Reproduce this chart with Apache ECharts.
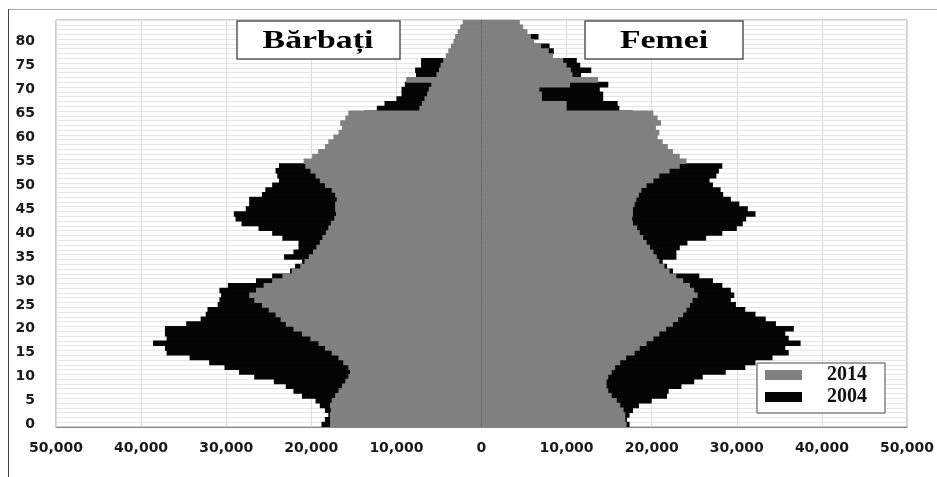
<!DOCTYPE html>
<html>
<head>
<meta charset="utf-8">
<script src="https://cdn.jsdelivr.net/npm/echarts@6/dist/echarts.min.js"></script>
<style>html,body{margin:0;padding:0;background:#fff;}#c{width:937px;height:477px;}</style>
</head>
<body>
<div id="c"></div>
<script>
// Ages 0..84
const ages = Array.from({length: 85}, (_, i) => String(i));
const xTicks = [-50000, -40000, -30000, -20000, -10000, 0, 10000, 20000, 30000, 40000, 50000];

// Men (Bărbați) 2014
const men2014 = [
17800,17800,17800,17700,17800,17600,17200,16800,16400,16000,
15650,15450,15650,16250,16800,17600,18400,19150,20100,21100,
22100,23000,23600,24200,25000,25800,26700,27300,26500,25600,
24600,23400,22300,21300,20800,20300,19800,19400,19000,18700,
18300,18000,17700,17300,17100,17200,17200,17000,17200,17600,
18400,19000,19500,20100,20700,20900,19900,19200,18400,18000,
17400,16800,16400,16600,16000,15650,7300,7000,6700,6400,
6200,5900,8850,5300,5000,4800,4500,4200,3900,3600,
3300,3100,2800,2500,2200];
// Men (Bărbați) 2004
const men2004 = [
18800,18400,18000,18400,19000,19500,21100,22100,23000,24400,
26700,28500,30200,32000,34300,37000,37200,38600,37000,37200,
37200,34700,33000,32400,32200,31000,30800,30600,30800,29800,
26500,24600,22500,21900,21100,23200,22100,21500,21500,23400,
24600,26200,28200,28900,29100,27700,27300,27300,25800,25400,
24600,23800,24000,24200,23800,19500,18500,17800,17000,16500,
16000,15300,14800,14500,14200,13800,12300,11400,10000,9400,
9400,9000,8000,7700,7800,7100,7100,4000,3600,3300,
3000,2700,2500,2200,1800];
// Women (Femei) 2014
const women2014 = [
17050,16900,16900,16700,16300,15900,15300,14900,14700,14700,
14900,15300,15700,16300,17000,18000,18600,19400,20200,20900,
21700,22500,23100,23700,24100,24500,24800,25400,25000,24500,
23700,22900,22100,21500,20900,20600,20200,19800,19400,19000,
18600,18300,17800,17700,17800,17800,18000,18200,18500,18800,
19400,20200,20900,22100,23300,24100,23300,22500,21900,21300,
20700,20900,20500,21100,20700,20200,10000,10000,7100,7100,
6800,10400,13700,10700,10500,10000,9600,8400,7900,7000,
6200,5800,5400,4900,4500];
// Women (Femei) 2004
const women2004 = [
17400,17100,17400,17800,18500,20000,21800,22000,23500,25000,
26000,28700,31000,32200,34200,36100,35700,37500,36100,35700,
36700,34600,33400,32200,31000,29900,29300,29700,29300,28300,
27200,25600,22500,21800,21300,22900,22900,23300,24200,26400,
28300,30000,30700,31100,32200,31300,30300,29300,28400,28100,
27200,26800,27600,27900,28300,22000,21000,20500,20000,19500,
19000,18500,18300,18000,18200,17800,16200,16000,14300,14300,
13900,14900,12500,11700,12900,11600,11200,8000,8500,8000,
6000,6700,5000,4500,4000];

const seriesNames = ['2014', '2004'];
const labelMen = 'Bărbați';
const labelWomen = 'Femei';

const GRAY = '#808080', BLACK = '#050505';
function bar(name, data, color) {
  return {
    name: name, type: 'bar', data: data, barWidth: '116%', barGap: '-100%', barCategoryGap: '0%',
    itemStyle: { color: color },
    emphasis: { disabled: true }, animation: false
  };
}

const chart = echarts.init(document.getElementById('c'), null, { renderer: 'canvas' });
chart.setOption({
  animation: false,
  backgroundColor: '#fff',
  grid: { left: 56, right: 24, top: 20, bottom: 50, show: true, borderColor: '#9a9a9a', borderWidth: 1 },
  xAxis: {
    type: 'value', min: xTicks[0], max: xTicks[xTicks.length - 1], interval: 10000,
    axisLine: { show: true, lineStyle: { color: '#888' } },
    axisTick: { show: false },
    splitLine: { show: true, lineStyle: { color: '#dcdcdc', width: 1 } },
    axisLabel: {
      margin: 14, fontFamily: 'DejaVu Sans', fontWeight: 'bold', fontSize: 14, color: '#1a1a1a',
      formatter: v => Math.abs(v).toLocaleString('en-US')
    }
  },
  yAxis: {
    type: 'category', data: ages, boundaryGap: true,
    axisLine: { show: true, lineStyle: { color: '#9a9a9a' } },
    axisTick: { show: false },
    splitLine: { show: true, interval: 0, lineStyle: { color: '#e6e6e6', width: 1 } },
    axisLabel: { interval: 4, margin: 21, fontFamily: 'DejaVu Sans', fontWeight: 'bold', fontSize: 14, color: '#1a1a1a' }
  },
  legend: {
    data: seriesNames, orient: 'vertical', left: 757, top: 363,
    padding: [1, 18, 5, 8], itemGap: 0, itemWidth: 37, itemHeight: 10, icon: 'rect',
    borderColor: '#444', borderWidth: 1, backgroundColor: '#fff',
    selectedMode: false,
    textStyle: { fontFamily: 'Liberation Serif', fontWeight: 'bold', fontSize: 20, color: '#111', lineHeight: 22, padding: [0, 0, 0, 20] }
  },
  series: [
    bar('2004', men2004.map(v => -v), BLACK),
    bar('2004', women2004, BLACK),
    bar('2014', men2014.map(v => -v), GRAY),
    bar('2014', women2014, GRAY)
  ],
  graphic: [
    { type: 'line', z: 100, shape: { x1: 8, y1: 9.5, x2: 937, y2: 9.5 }, style: { stroke: '#aaa', lineWidth: 1 } },
    { type: 'line', z: 100, shape: { x1: 8.5, y1: 9, x2: 8.5, y2: 477 }, style: { stroke: '#444', lineWidth: 1 } },
    { type: 'rect', z: 100, shape: { x: 237, y: 21, width: 163, height: 38 }, style: { fill: '#fff', stroke: '#555', lineWidth: 1.5 } },
    { type: 'text', z: 101, x: 318, y: 41, scaleX: 1.3, style: { text: labelMen, x: 0, y: 0, align: 'center', verticalAlign: 'middle', font: 'bold 26px "Liberation Serif"', fill: '#000' } },
    { type: 'rect', z: 100, shape: { x: 585, y: 21, width: 158, height: 38 }, style: { fill: '#fff', stroke: '#555', lineWidth: 1.5 } },
    { type: 'text', z: 101, x: 664, y: 41, scaleX: 1.3, style: { text: labelWomen, x: 0, y: 0, align: 'center', verticalAlign: 'middle', font: 'bold 26px "Liberation Serif"', fill: '#000' } }
  ]
});
</script>
</body>
</html>
